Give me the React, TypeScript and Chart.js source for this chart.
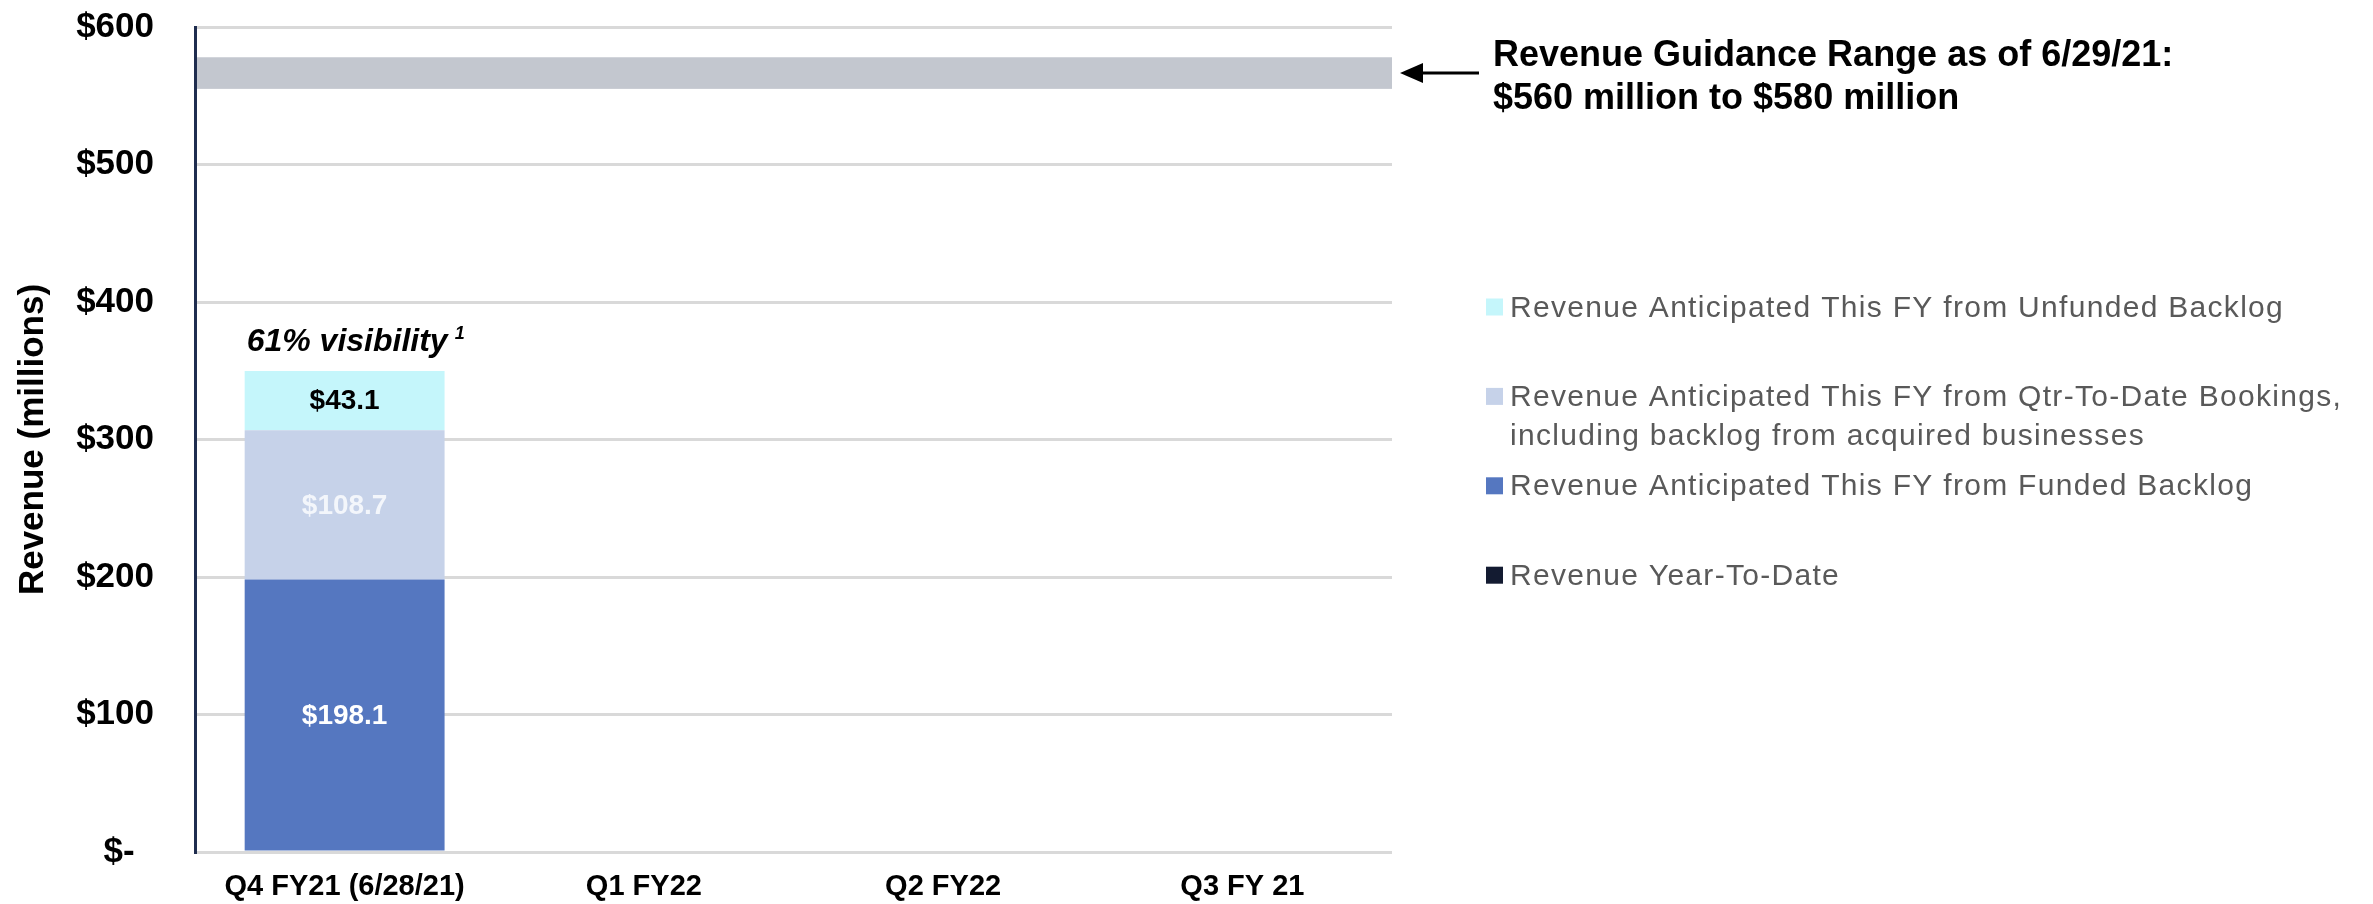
import React, { useEffect, useRef } from 'react';
import { Chart, registerables } from 'chart.js';

Chart.register(...registerables);

const FONT = "'Liberation Sans', Arial, Helvetica, sans-serif";

const categories = ['Q4 FY21 (6/28/21)', 'Q1 FY22', 'Q2 FY22', 'Q3 FY 21'];
const revenueYearToDate: (number | null)[] = [null, null, null, null];
const fundedBacklog: (number | null)[] = [198.1, null, null, null];
const qtdBookings: (number | null)[] = [108.7, null, null, null];
const unfundedBacklog: (number | null)[] = [43.1, null, null, null];

const seriesNames = [
  'Revenue Year-To-Date',
  'Revenue Anticipated This FY from Funded Backlog',
  'Revenue Anticipated This FY from Qtr-To-Date Bookings,\nincluding backlog from acquired businesses',
  'Revenue Anticipated This FY from Unfunded Backlog',
];
const seriesColors = ['#131b31', '#5577c0', '#c6d2e9', '#c5f6fb'];
const valueLabelColors = ['#ffffff', '#ffffff', '#f3f6fb', '#000000'];

const yTickValues = [0, 100, 200, 300, 400, 500, 600];
const guidanceRange = [555, 578];
const guidanceText = ['Revenue Guidance Range as of 6/29/21:', '$560 million to $580 million'];
const visibilityText = '61% visibility';
const visibilityNote = '1';
const yAxisTitle = 'Revenue (millions)';

const annotationPlugin = {
  id: 'annotationPlugin',
  beforeDatasetsDraw(chart: any) {
    const { ctx, chartArea, scales } = chart;
    const y = scales.y;
    const top = y.getPixelForValue(guidanceRange[1]);
    const bottom = y.getPixelForValue(guidanceRange[0]);
    ctx.save();
    ctx.fillStyle = '#c3c7cf';
    ctx.fillRect(chartArea.left + 2, top, chartArea.right - chartArea.left - 2, bottom - top);
    ctx.restore();
  },
  afterDatasetsDraw(chart: any) {
    const { ctx, chartArea, scales } = chart;
    const y = scales.y;
    ctx.save();

    // value labels inside bar segments
    ctx.font = `bold 28px ${FONT}`;
    ctx.textAlign = 'center';
    ctx.textBaseline = 'middle';
    chart.data.datasets.forEach((ds: any, di: number) => {
      const meta = chart.getDatasetMeta(di);
      meta.data.forEach((el: any, i: number) => {
        const v = ds.data[i];
        if (v == null) return;
        const p = el.getProps(['x', 'y', 'base'], true);
        ctx.fillStyle = valueLabelColors[di];
        ctx.fillText('$' + Number(v).toFixed(1), p.x, (p.y + p.base) / 2 + 1);
      });
    });

    // visibility label above first stack
    let topEl: any = null;
    chart.data.datasets.forEach((ds: any, di: number) => {
      if (ds.data[0] != null) topEl = chart.getDatasetMeta(di).data[0];
    });
    if (topEl) {
      const p = topEl.getProps(['x', 'y', 'width'], true);
      const left = p.x - p.width / 2 + 2;
      const baseY = p.y - 20;
      ctx.textAlign = 'left';
      ctx.textBaseline = 'alphabetic';
      ctx.fillStyle = '#000000';
      ctx.font = `italic bold 32px ${FONT}`;
      ctx.fillText(visibilityText, left, baseY);
      const w = ctx.measureText(visibilityText).width;
      ctx.font = `italic bold 18px ${FONT}`;
      ctx.fillText(visibilityNote, left + w + 7, baseY - 12);
    }

    // guidance arrow + text
    const bandMid = (y.getPixelForValue(guidanceRange[0]) + y.getPixelForValue(guidanceRange[1])) / 2;
    const ax1 = chartArea.right + 8;
    const ax2 = chartArea.right + 87;
    ctx.strokeStyle = '#000000';
    ctx.lineWidth = 3;
    ctx.beginPath();
    ctx.moveTo(ax1 + 18, bandMid);
    ctx.lineTo(ax2, bandMid);
    ctx.stroke();
    ctx.fillStyle = '#000000';
    ctx.beginPath();
    ctx.moveTo(ax1, bandMid);
    ctx.lineTo(ax1 + 23, bandMid - 10);
    ctx.lineTo(ax1 + 23, bandMid + 10);
    ctx.closePath();
    ctx.fill();

    ctx.font = `bold 36px ${FONT}`;
    ctx.textAlign = 'left';
    ctx.textBaseline = 'alphabetic';
    const tx = chartArea.right + 101;
    ctx.fillText(guidanceText[0], tx, bandMid - 7);
    ctx.fillText(guidanceText[1], tx, bandMid + 36);

    // legend (reverse order)
    const lx = chartArea.right + 94;
    const rowStart = 307;
    const rowStep = 89.4;
    for (let k = 0; k < seriesNames.length; k++) {
      const di = seriesNames.length - 1 - k;
      const cy = rowStart + k * rowStep;
      ctx.fillStyle = seriesColors[di];
      ctx.fillRect(lx, cy - 8.5, 17, 17);
      ctx.fillStyle = '#595959';
      ctx.font = `30px ${FONT}`;
      (ctx as any).letterSpacing = '1.3px';
      const lines = seriesNames[di].split('\n');
      lines.forEach((ln, j) => {
        ctx.fillText(ln, lx + 24, cy + 9.5 + j * 39);
      });
      (ctx as any).letterSpacing = '0px';
    }

    ctx.restore();
  },
};

export default function App() {
  const ref = useRef<HTMLCanvasElement>(null);

  useEffect(() => {
    document.body.style.margin = '0';
    const canvas = ref.current!;
    const chart = new Chart(canvas, {
      type: 'bar',
      data: {
        labels: categories,
        datasets: [
          { label: seriesNames[0], data: revenueYearToDate, backgroundColor: seriesColors[0] },
          { label: seriesNames[1], data: fundedBacklog, backgroundColor: seriesColors[1] },
          { label: seriesNames[2], data: qtdBookings, backgroundColor: seriesColors[2] },
          { label: seriesNames[3], data: unfundedBacklog, backgroundColor: seriesColors[3] },
        ],
      },
      options: {
        responsive: false,
        animation: false,
        devicePixelRatio: 1,
        layout: { padding: { top: 27, right: 981, left: 0, bottom: 0 } },
        datasets: {
          bar: { categoryPercentage: 1, barPercentage: 0.668, borderWidth: 0 },
        },
        plugins: {
          legend: { display: false },
          tooltip: { enabled: false },
        },
        scales: {
          x: {
            stacked: true,
            grid: { display: false, drawTicks: false },
            border: { display: false },
            ticks: {
              color: '#000000',
              font: { family: FONT, size: 29, weight: 'bold' },
              padding: 18,
              maxRotation: 0,
              autoSkip: false,
            },
            afterFit(scale: any) {
              scale.height = 52;
              scale.paddingLeft = 0;
              scale.paddingRight = 0;
            },
          },
          y: {
            stacked: true,
            min: 0,
            max: 600,
            afterBuildTicks(scale: any) {
              scale.ticks = yTickValues.map((v) => ({ value: v }));
            },
            grid: { color: '#d9d9d9', lineWidth: 3, drawTicks: false },
            border: { display: true, color: '#1f2d4f', width: 3 },
            ticks: {
              color: '#000000',
              font: { family: FONT, size: 35, weight: 'bold' },
              padding: 41,
              callback: (v: any) => (Number(v) === 0 ? '$-  ' : '$' + v),
            },
            title: {
              display: true,
              text: yAxisTitle,
              color: '#000000',
              font: { family: FONT, size: 35, weight: 'bold' },
              padding: { top: 12, bottom: 0 },
            },
            afterFit(scale: any) {
              scale.width = 195;
              scale.paddingTop = 0;
              scale.paddingBottom = 0;
            },
          },
        },
      } as any,
      plugins: [annotationPlugin],
    });
    return () => chart.destroy();
  }, []);

  return (
    <div style={{ width: 2373, height: 904, background: '#ffffff', overflow: 'hidden' }}>
      <canvas ref={ref} width={2373} height={904} style={{ display: 'block' }} />
    </div>
  );
}
